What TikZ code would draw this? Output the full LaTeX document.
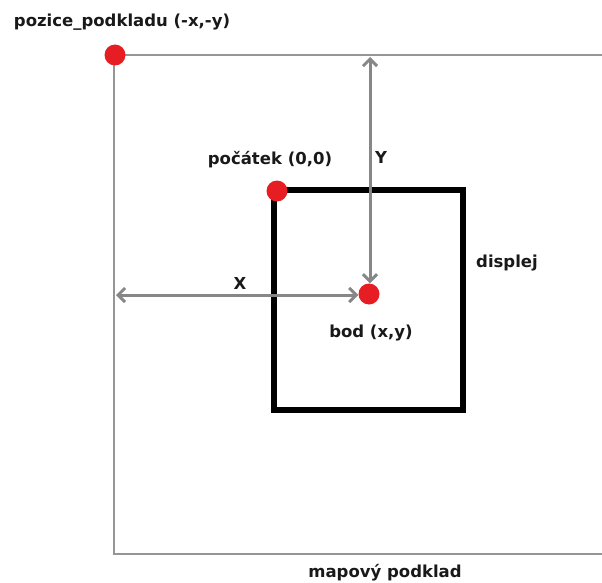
\documentclass[tikz,border=0pt]{standalone}
\usepackage{fontspec}
\setmainfont{DejaVu Sans}
\usetikzlibrary{arrows.meta}
\definecolor{dotred}{RGB}{230,30,35}
\definecolor{arrowgray}{RGB}{135,135,135}
\definecolor{mapgray}{RGB}{150,150,150}
\definecolor{txt}{RGB}{25,25,25}
\tikzset{
  dot/.style={circle, fill=dotred, inner sep=0pt, minimum size=21pt},
  lbl/.style={font=\bfseries\fontsize{16.5}{18}\selectfont, text=txt, inner sep=0pt},
  dim/.style={draw=arrowgray, line width=3pt, {Straight Barb[length=7pt,width=14pt,line width=3pt]}-{Straight Barb[length=7pt,width=14pt,line width=3pt]}},
}
\begin{document}
\begin{tikzpicture}[x=1pt,y=-1pt]
\useasboundingbox (0,0) rectangle (602,583);
% map
\draw[mapgray, line width=1.5pt] (602,55) -- (114,55) -- (114,554) -- (602,554);
% display
\draw[black, line width=5.5pt] (274,190) rectangle (463,410);
% coordinates
\coordinate (ytop) at (370,57);
\coordinate (xleft) at (116,295);
% dots
\node[dot] (pod) at (115,55) {};
\node[dot] (origin) at (277,191) {};
\node[dot] (bod) at (369,294) {};
% arrows
\draw[dim] (ytop) -- (bod.north -| ytop);
\draw[dim] (xleft) -- (bod.west |- xleft);
% labels
\node[lbl] (lpod) at (122,22) {pozice\_podkladu (-x,-y)};
\node[lbl] (lorig) at (270,160) {počátek (0,0)};
\node[lbl] (ly) at (381,157) {Y};
\node[lbl] (lx) at (240,283) {X};
\node[lbl] (lbod) at (371,333) {bod (x,y)};
\node[lbl] (ldisp) at (507,263) {displej};
\node[lbl] (lmap) at (385,573) {mapový podklad};
\end{tikzpicture}
\end{document}
